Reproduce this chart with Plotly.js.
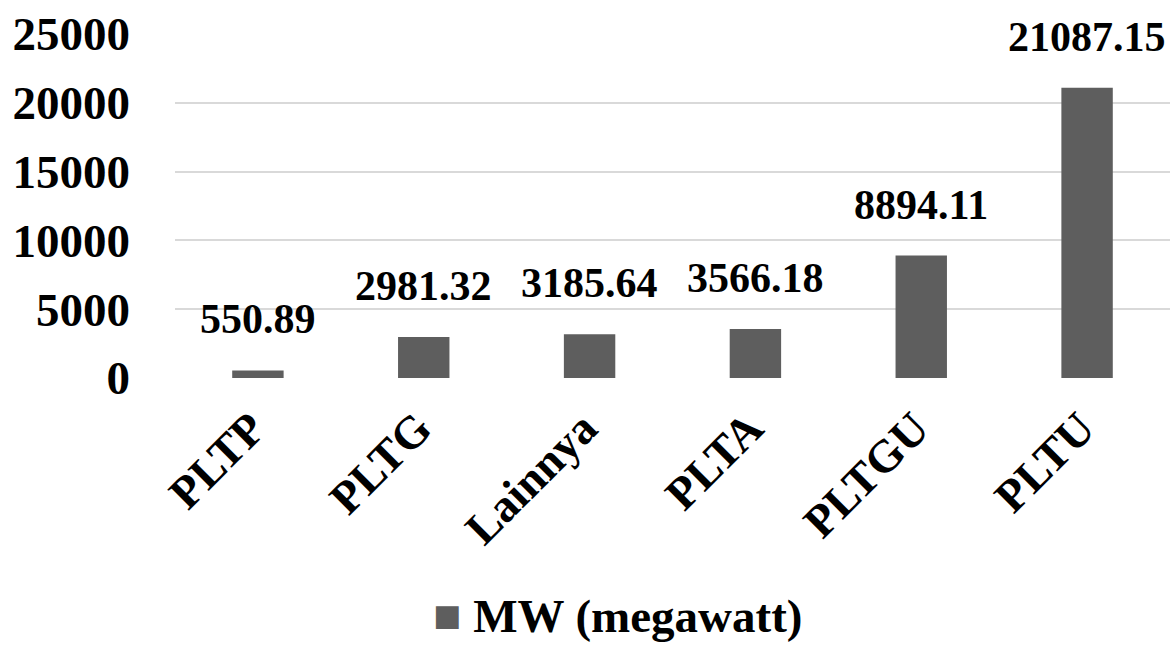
<!DOCTYPE html>
<html>
<head>
<meta charset="utf-8">
<script src="https://cdn.plot.ly/plotly-3.0.1.min.js"></script>
<style>
  html, body { margin: 0; padding: 0; background: #ffffff; }
  #chart { width: 1170px; height: 648px; }
</style>
</head>
<body>
<div id="chart"></div>
<script>
// Installed capacity per power-plant type
const categories = ['PLTP', 'PLTG', 'Lainnya', 'PLTA', 'PLTGU', 'PLTU'];
const capacityMW = [550.89, 2981.32, 3185.64, 3566.18, 8894.11, 21087.15];
const valueLabels = ['550.89', '2981.32', '3185.64', '3566.18', '8894.11', '21087.15'];
const seriesName = 'MW (megawatt)';
const yTicks = [0, 5000, 10000, 15000, 20000, 25000];

const barColor = '#5e5e5e';
const fontFamily = 'Liberation Serif';

const trace = {
  type: 'bar',
  x: categories,
  y: capacityMW,
  name: seriesName,
  width: 0.31,
  marker: { color: barColor, line: { width: 0 } },
  showlegend: false,
  hoverinfo: 'x+y'
};

// value labels sitting above each bar
const valueAnnotations = categories.map((c, i) => ({
  x: c,
  y: capacityMW[i],
  xref: 'x',
  yref: 'y',
  text: '<b>' + valueLabels[i] + '</b>',
  showarrow: false,
  yanchor: 'bottom',
  yshift: 26,
  font: { family: fontFamily, size: 42, color: '#000000' }
}));

// legend row below the axis
const legendAnnotation = {
  xref: 'paper',
  yref: 'paper',
  x: 0.445,
  y: -0.693,
  xanchor: 'center',
  yanchor: 'middle',
  borderpad: 0,
  showarrow: false,
  text: '<span style="color:' + barColor + '">■</span> <b>' + seriesName + '</b>',
  font: { family: fontFamily, size: 47, color: '#000000' }
};

const layout = {
  width: 1170,
  height: 648,
  margin: { l: 175, r: 0, t: 34, b: 270 },
  paper_bgcolor: '#ffffff',
  plot_bgcolor: '#ffffff',
  showlegend: false,
  bargap: 0.69,
  font: { family: fontFamily },
  xaxis: {
    type: 'category',
    tickangle: -45,
    ticks: '',
    showline: false,
    showgrid: false,
    zeroline: false,
    ticklabelstandoff: 13,
    ticklabelshift: -6,
    tickfont: { family: fontFamily, size: 46, color: '#000000', weight: 'bold' }
  },
  yaxis: {
    range: [0, 25000],
    tickvals: yTicks,
    ticktext: yTicks.map(String),
    showgrid: true,
    gridcolor: '#d9d9d9',
    gridwidth: 2,
    zeroline: false,
    showline: false,
    ticks: '',
    ticklabelstandoff: 44,
    tickfont: { family: fontFamily, size: 47, color: '#000000', weight: 'bold' }
  },
  annotations: valueAnnotations.concat([legendAnnotation])
};

Plotly.newPlot('chart', [trace], layout, { displayModeBar: false, staticPlot: true });
</script>
</body>
</html>
